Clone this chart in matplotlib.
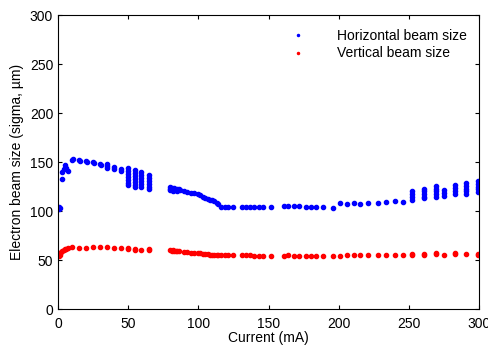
import matplotlib
matplotlib.use("Agg")
import matplotlib.pyplot as plt

plt.rcParams['font.family'] = ['Liberation Sans', 'DejaVu Sans']

# Horizontal beam size (blue)
h_current = [0.5, 1, 1.5, 2.5, 3, 4, 5, 6, 7, 10, 10.5, 15, 15.5, 20, 20.5, 25, 25.5,
             30, 30.5, 35, 35, 35, 40, 40, 45, 45,
             50, 50, 50, 50, 50, 50, 50,
             55, 55, 55, 55, 55, 55, 55,
             59, 59, 59, 59, 59, 59,
             65, 65, 65, 65, 65, 65,
             80, 80, 80, 81, 82, 82, 83, 84, 85, 85, 86, 87,
             90, 92, 95, 97, 100, 101, 103, 105, 107, 108, 110, 111, 113, 114, 116,
             119, 121, 125, 131, 134, 137, 140, 143, 146, 152, 161, 164, 168, 172,
             177, 180, 184, 189, 196, 201, 206, 211, 215, 221, 228, 234, 240, 246,
             252, 252, 252, 252,
             261, 261, 261, 261, 261,
             269, 269, 269, 269, 269,
             275, 275, 275,
             283, 283, 283, 283,
             291, 291, 291, 291, 291,
             299, 299, 299, 299, 299]
h_size = [102, 104, 103, 133, 140, 143, 147, 144, 141, 152, 153, 152, 151, 151, 150, 150, 149,
          148, 147, 148, 146, 144, 145, 143, 143, 141,
          144, 141, 138, 135, 132, 129, 127,
          142, 139, 136, 133, 130, 127, 125,
          140, 137, 134, 131, 128, 125,
          137, 134, 131, 128, 125, 123,
          125, 123, 121, 124, 122, 120, 124, 121, 123, 120, 122, 121,
          120, 119, 118, 118, 117, 116, 114, 113, 112, 111, 111, 110, 108, 107, 104,
          104, 104, 104, 104, 104, 104, 104, 104, 104, 104.5, 105, 105, 105.5, 105,
          104, 104, 104.5, 104, 103.5, 108, 107, 108, 107.5, 108.5, 108.5, 109.5, 110, 109.5,
          120, 117, 114, 111,
          123, 120, 117, 114, 113,
          126, 123, 120, 117, 114,
          121, 118, 115,
          127, 124, 120, 117,
          129, 126, 123, 120, 117,
          131, 128, 125, 122, 119]

# Vertical beam size (red)
v_current = [0.5, 1, 1.5, 2, 3, 4, 5, 6, 7, 10, 15, 20, 25, 30, 35, 40, 45,
             50, 50, 55, 55, 59, 65, 65,
             80, 81, 82, 83, 84, 85, 86, 90, 92, 95, 97, 100, 101, 103, 105, 107,
             108, 110, 111, 113, 114, 116, 119, 121, 125, 131, 134, 137, 140, 143,
             146, 152, 161, 164, 168, 172, 177, 180, 184, 189, 196, 201, 206, 211,
             215, 221, 228, 234, 240, 246, 252, 252, 261, 261, 269, 269, 275,
             283, 283, 291, 299, 299]
v_size = [54, 56, 55, 58, 59, 60, 61, 61, 62, 63, 62.5, 62.5, 63.5, 63.5, 63, 62.5, 62,
          61, 62, 61, 60.5, 60.5, 60, 61,
          60, 59.5, 60, 59, 59.5, 59, 59, 58.5, 58, 57.5, 57.5, 57, 57, 56.5, 56, 56,
          55.5, 55.5, 55.5, 55, 55, 55, 55, 55, 55, 55, 55, 55, 54.5, 54.5,
          54.5, 54.5, 54.5, 55, 54.5, 54.5, 54, 54, 54.5, 54.5, 54, 54.5, 55, 55,
          55, 55, 55, 55, 55, 55, 55.5, 56, 55.5, 56.5, 56, 57, 55,
          56, 57, 56, 55.5, 56.5]

fig = plt.figure(figsize=(4.89, 3.5), dpi=100)
ax = fig.add_axes([0.1186, 0.117, 0.861, 0.84])

ax.plot(h_current, h_size, '.', color='blue', markersize=6, label='Horizontal beam size')
ax.plot(v_current, v_size, '.', color='red', markersize=6, label='Vertical beam size')

ax.set_xlim(0, 300)
ax.set_ylim(0, 300)
ax.set_xticks(range(0, 301, 50))
ax.set_yticks(range(0, 301, 50))
ax.tick_params(direction='in', top=True, right=True, labelsize=10, length=3)
ax.tick_params(axis='x', pad=5.5)
ax.set_xlabel('Current (mA)', fontsize=10, labelpad=0)
ax.set_ylabel('Electron beam size (sigma, µm)', fontsize=10, labelpad=4)

ax.legend(loc='upper right', frameon=False, fontsize=10, markerscale=0.5,
          handletextpad=1.8, labelspacing=0.25, bbox_to_anchor=(1.0, 0.995))

fig.savefig('out.png', dpi=100)
